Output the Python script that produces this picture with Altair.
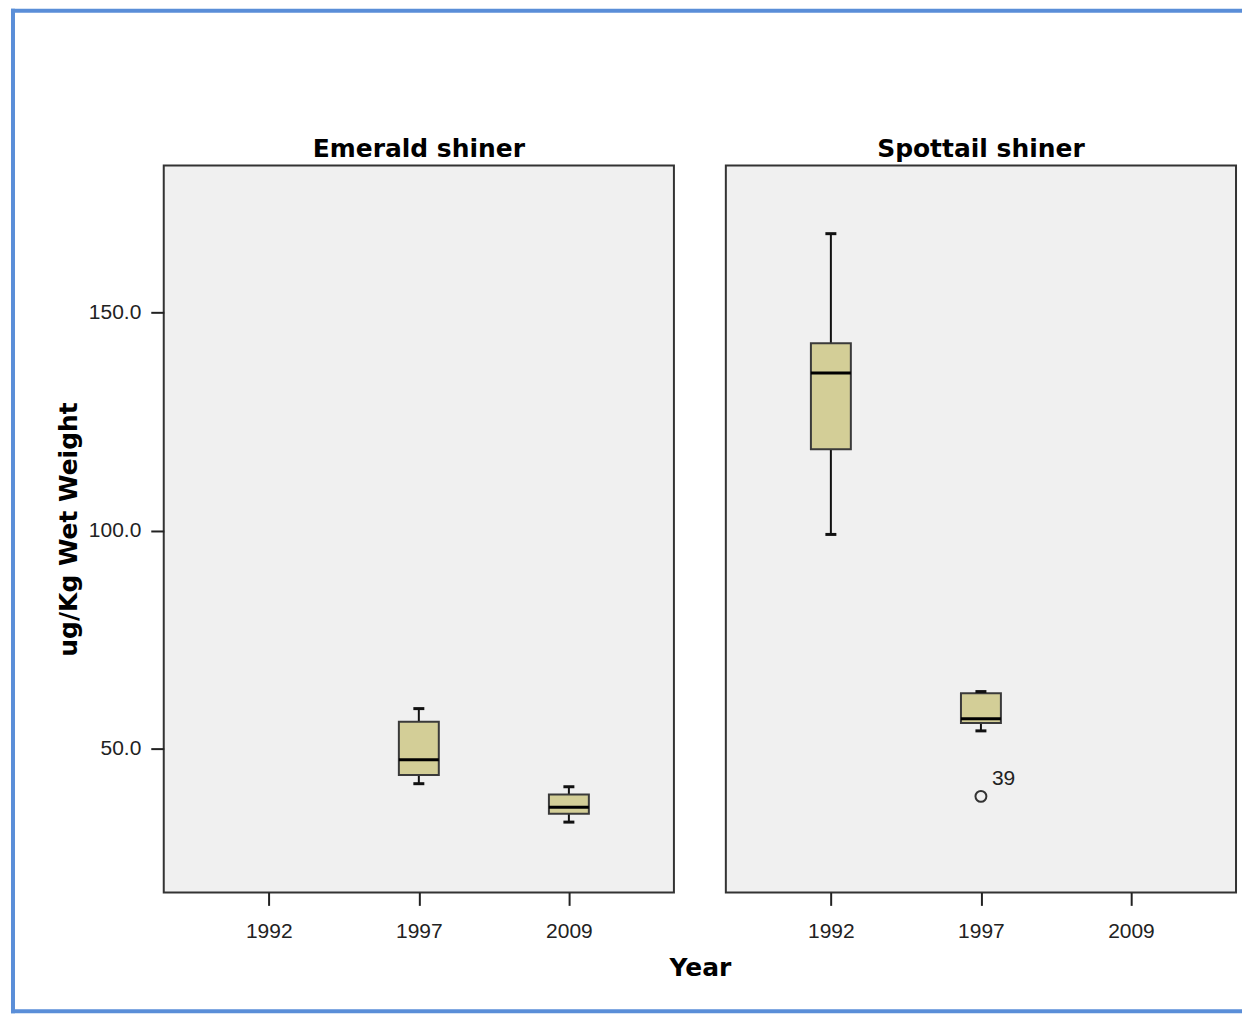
import altair as alt
import pandas as pd

years = ["1992", "1997", "2009"]
species = ["Emerald shiner", "Emerald shiner", "Spottail shiner", "Spottail shiner"]
box_years = ["1997", "2009", "1992", "1997"]
whisk_lo = [42.0, 33.2, 99.1, 54.1]
q1 = [44.0, 35.1, 118.6, 55.9]
median = [47.5, 36.6, 136.1, 56.9]
q3 = [56.2, 39.5, 142.9, 62.7]
whisk_hi = [59.2, 41.3, 168.0, 63.1]

out_species = ["Spottail shiner"]
out_years = ["1997"]
out_values = [39.1]
out_labels = ["39"]

y_domain = [17.1, 183.6]

boxes = pd.DataFrame({"species": species, "year": box_years, "lo": whisk_lo,
                      "q1": q1, "med": median, "q3": q3, "hi": whisk_hi})
outs = pd.DataFrame({"species": out_species, "year": out_years,
                     "value": out_values, "label": out_labels})

W, H = 511, 728
BOX_FILL = "#D3CE97"
LABEL_FONT = "Liberation Sans"
TITLE_FONT = "DejaVu Sans"


def panel(name, left):
    b = boxes[boxes.species == name]
    o = outs[outs.species == name]
    xscale = alt.Scale(type="point", domain=years, padding=0.7)
    yscale = alt.Scale(domain=y_domain, nice=False, zero=False)
    if left:
        xaxis = alt.Axis(title="Year", titleX=537, titleY=83, titleAlign="center",
                         titleBaseline="alphabetic", titleFont=TITLE_FONT,
                         titleFontSize=25, titleFontWeight="bold", titleColor="black",
                         labelFont=LABEL_FONT, labelFontSize=21, labelColor="#222",
                         labelAngle=0, tickSize=13, tickWidth=2, tickColor="#222",
                         labelPadding=15, domain=False)
        yaxis = alt.Axis(title="ug/Kg Wet Weight", values=[50, 100, 150], format=".1f",
                         titleAngle=270, titleX=-95, titleY=364, titleAlign="center",
                         titleBaseline="middle", titleFont=TITLE_FONT, titleFontSize=25,
                         titleFontWeight="bold", titleColor="black",
                         labelFont=LABEL_FONT, labelFontSize=21, labelColor="#222",
                         tickSize=13, tickWidth=2, tickColor="#222", labelPadding=10,
                         domain=False, grid=False)
    else:
        xaxis = alt.Axis(title=None, labelFont=LABEL_FONT, labelFontSize=21,
                         labelColor="#222", labelAngle=0, tickSize=13, tickWidth=2,
                         tickColor="#222", labelPadding=15, domain=False)
        yaxis = None

    base = alt.Chart(b)
    x = alt.X("year:O", scale=xscale, axis=xaxis)
    whisk = base.mark_rule(color="#111", strokeWidth=2).encode(
        x=x, y=alt.Y("lo:Q", scale=yscale, axis=yaxis), y2="hi:Q")
    box = base.mark_bar(size=40, fill=BOX_FILL, stroke="#3a3a3a", strokeWidth=2).encode(
        x="year:O", y="q1:Q", y2="q3:Q")
    med = base.mark_tick(size=40, thickness=3, color="#000", opacity=1).encode(
        x="year:O", y="med:Q")
    cap_lo = base.mark_tick(size=11, thickness=3, color="#111", opacity=1).encode(
        x="year:O", y="lo:Q")
    cap_hi = base.mark_tick(size=11, thickness=3, color="#111", opacity=1).encode(
        x="year:O", y="hi:Q")
    layers = [whisk, box, med, cap_lo, cap_hi]
    if len(o):
        ob = alt.Chart(o)
        layers.append(ob.mark_point(shape="circle", size=120, filled=False,
                                    stroke="#333", strokeWidth=2, opacity=1).encode(
            x="year:O", y="value:Q"))
        layers.append(ob.mark_text(align="left", baseline="alphabetic", dx=11, dy=-11,
                                   font=LABEL_FONT, fontSize=21, color="#222").encode(
            x="year:O", y="value:Q", text="label:N"))
    one = alt.Chart(pd.DataFrame({"k": [0]}))
    layers.append(one.mark_text(font=TITLE_FONT, fontSize=25, fontWeight="bold",
                                color="black", align="center",
                                baseline="alphabetic").encode(
        x=alt.value(W / 2), y=alt.value(-9), text=alt.value(name)))
    if left:
        blue = "#5A8ED8"
        layers.append(one.mark_rule(color=blue, strokeWidth=4).encode(
            x=alt.value(-151), y=alt.value(-157), y2=alt.value(849)))
        layers.append(one.mark_rule(color=blue, strokeWidth=4).encode(
            x=alt.value(-153), x2=alt.value(1080), y=alt.value(-155)))
        layers.append(one.mark_rule(color=blue, strokeWidth=4).encode(
            x=alt.value(-153), x2=alt.value(1080), y=alt.value(847)))
    return alt.layer(*layers).properties(width=W, height=H)


chart = alt.hconcat(panel("Emerald shiner", True), panel("Spottail shiner", False),
                    spacing=52, bounds="flush").properties(
    padding={"left": 0, "top": -3, "right": 0, "bottom": 0},
    background="white"
).configure_view(fill="#F0F0F0", stroke="#333", strokeWidth=2)

chart.save("out.html", embed_options={"renderer": "svg", "actions": False})
